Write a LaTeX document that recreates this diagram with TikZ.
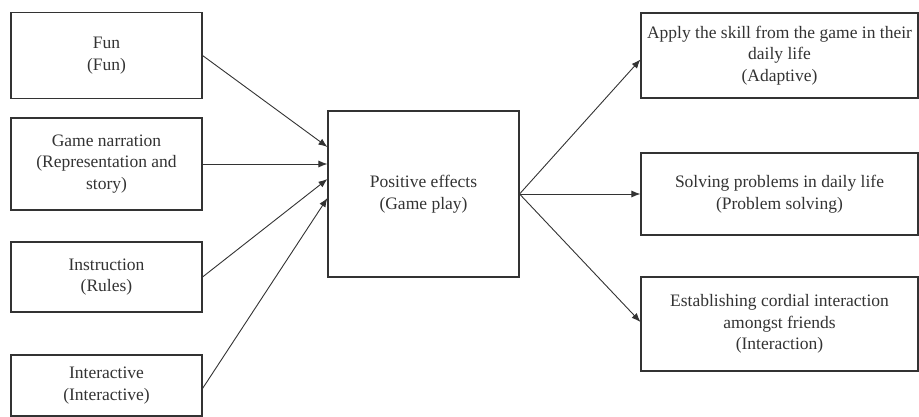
\documentclass[tikz,border=0pt]{standalone}
\usepackage{fontspec}
\setmainfont{Liberation Serif}
\usetikzlibrary{arrows.meta}
\definecolor{ink}{HTML}{333333}
\begin{document}
\begin{tikzpicture}[x=1pt,y=-1pt,
  box/.style={draw=ink,line width=1.1pt,text=ink,align=center,inner sep=2pt,
    font=\fontsize{17.5}{21.6}\selectfont},
  conn/.style={draw=ink,line width=0.9pt,-{Latex[length=9pt,width=7pt]}}]
\useasboundingbox (0,0) rectangle (919,417);
\node[box,minimum width=191pt,minimum height=86pt] (fun) at (106.5,55.5) {Fun\\(Fun)};
\node[box,minimum width=191pt,minimum height=92pt] (nar) at (106.5,164) {Game narration\\(Representation and\\story)};
\node[box,minimum width=191pt,minimum height=70pt] (ins) at (106.5,277) {Instruction\\(Rules)};
\node[box,minimum width=191pt,minimum height=61pt] (int) at (106.5,385.5) {Interactive\\(Interactive)};
\node[box,minimum width=191pt,minimum height=166pt] (pos) at (423.5,194) {Positive effects\\(Game play)};
\node[box,minimum width=277pt,minimum height=85pt] (ada) at (779.5,55.5) {Apply the skill from the game in their\\daily life\\(Adaptive)};
\node[box,minimum width=277pt,minimum height=82pt] (pro) at (779.5,194) {Solving problems in daily life\\(Problem solving)};
\node[box,minimum width=277pt,minimum height=94pt] (cor) at (779.5,324) {Establishing cordial interaction\\amongst friends\\(Interaction)};
\draw[conn] (fun.east) -- ([yshift=47pt]pos.west);
\draw[conn] (nar.east) -- ([yshift=30pt]pos.west);
\draw[conn] (ins.east) -- ([yshift=15pt]pos.west);
\draw[conn] ([yshift=-3pt]int.east) -- ([yshift=-4pt]pos.west);
\draw[conn] (pos.east) -- ([yshift=-4pt]ada.west);
\draw[conn] (pos.east) -- (pro.west);
\draw[conn] (pos.east) -- ([yshift=2pt]cor.west);
\end{tikzpicture}
\end{document}
